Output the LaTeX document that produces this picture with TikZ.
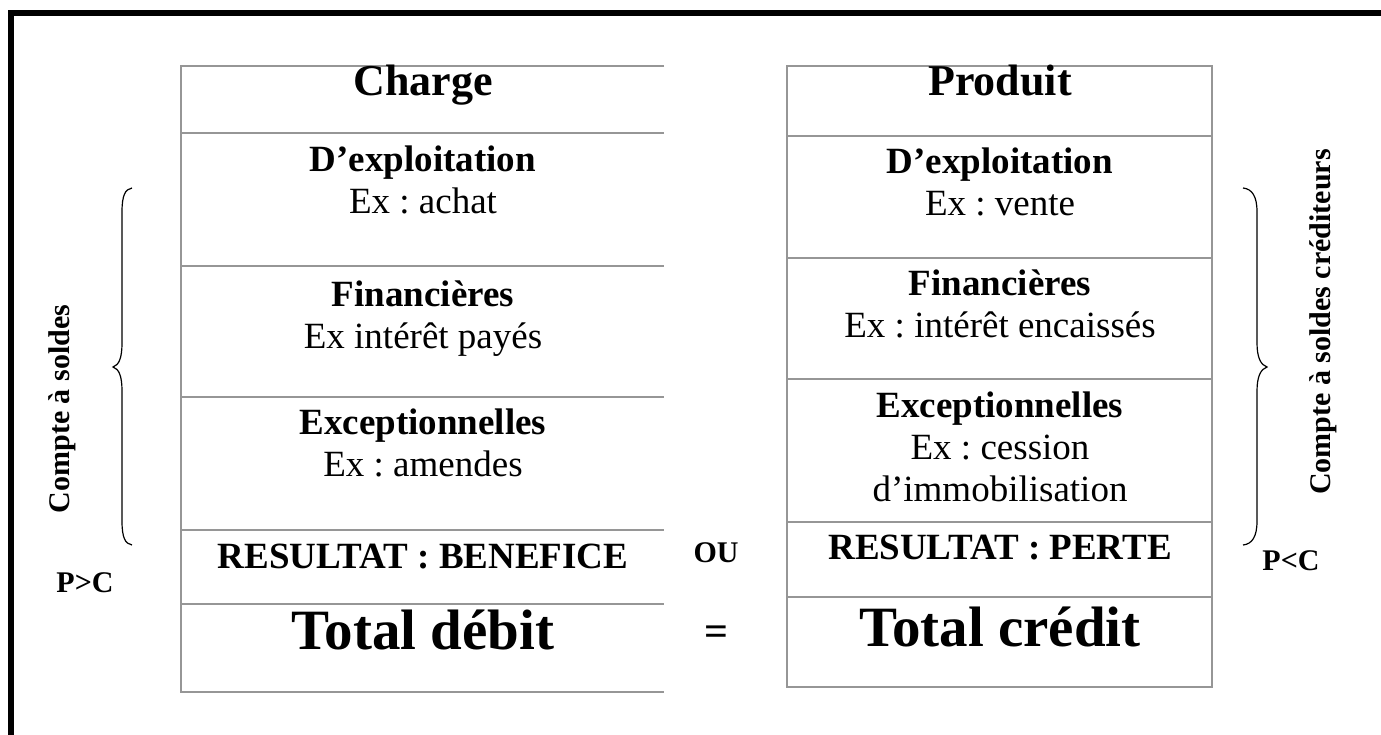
\documentclass[tikz,border=0pt]{standalone}
\usepackage{fontspec}
\setmainfont{Liberation Serif}
\definecolor{tablegray}{RGB}{150,150,150}
\frenchspacing
\begin{document}
\begin{tikzpicture}[x=1pt,y=-1pt,
  rule/.style={draw=tablegray, line width=2pt},
  body/.style={font=\fontsize{37}{42}\selectfont, anchor=base, inner sep=0pt},
  bodybf/.style={font=\fontsize{37}{42}\selectfont\bfseries, anchor=base, inner sep=0pt},
  title/.style={font=\fontsize{44}{50}\selectfont\bfseries, anchor=base, inner sep=0pt},
  total/.style={font=\fontsize{57}{64}\selectfont\bfseries, anchor=base, inner sep=0pt},
  side/.style={font=\fontsize{30}{34}\selectfont\bfseries, inner sep=0pt},
  brace/.style={draw=black, line width=1.2pt}]
\useasboundingbox (0,0) rectangle (1381,735);

% outer frame (top and left edges)
\draw[line width=6pt, line cap=rect] (11,735) -- (11,13) -- (1381,13);

% debit table (open on the right)
\draw[rule] (664,66) -- (181,66) -- (181,692) -- (664,692);
\foreach \y in {133,266,397,530,604} \draw[rule] (181,\y) -- (664,\y);

% credit table
\draw[rule] (787,66) rectangle (1212,687);
\foreach \y in {136,258,379,522,597} \draw[rule] (787,\y) -- (1212,\y);

% debit column
\node[title]  (charge)  at (423,96)  {Charge};
\node[bodybf] (lexpl)   at (423,172) {D’exploitation};
\node[body]   (lexpla)  at (423,214) {Ex : achat};
\node[bodybf] (lfin)    at (423,306) {Financières};
\node[body]   (lfina)   at (423,348) {Ex intérêt payés};
\node[bodybf] (lexc)    at (423,434) {Exceptionnelles};
\node[body]   (lexca)   at (423,476) {Ex : amendes};
\node[bodybf] (lres)    at (423,568) {RESULTAT : BENEFICE};
\node[total]  (ltot)    at (423,649) {Total débit};

% credit column
\node[title]  (produit) at (1000,96)  {Produit};
\node[bodybf] (rexpl)   at (1000,174) {D’exploitation};
\node[body]   (rexpla)  at (1000,216) {Ex : vente};
\node[bodybf] (rfin)    at (1000,295) {Financières};
\node[body]   (rfina)   at (1000,337) {Ex : intérêt encaissés};
\node[bodybf] (rexc)    at (1000,417) {Exceptionnelles};
\node[body]   (rexca)   at (1000,459) {Ex : cession};
\node[body]   (rexcb)   at (1000,501) {d’immobilisation};
\node[bodybf] (rres)    at (1000,559) {RESULTAT : PERTE};
\node[total]  (rtot)    at (1000,646) {Total crédit};

% between the columns
\node[side]   (ou)  at (716,553) {OU};
\node[font=\fontsize{42}{46}\selectfont\bfseries, inner sep=0pt] (eq) at (716,636) {=};

% braces and side labels
\draw[brace] (132,188) .. controls (125,189) and (122,196) .. (122,212)
  -- (122,343) .. controls (122,358) and (119,365) .. (113,367)
  .. controls (119,369) and (122,376) .. (122,391)
  -- (122,521) .. controls (122,537) and (125,544) .. (132,545);
\draw[brace] (1243,188) .. controls (1252,189) and (1257,196) .. (1257,212)
  -- (1257,343) .. controls (1257,358) and (1261,365) .. (1267,367)
  .. controls (1261,369) and (1257,376) .. (1257,391)
  -- (1257,521) .. controls (1257,537) and (1252,544) .. (1243,545);

\node[side, rotate=90] (lside) at (62,409)  {Compte à soldes};
\node[side, rotate=90] (rside) at (1323,322) {Compte à soldes créditeurs};
\node[side] (pgc) at (85,583)   {P>C};
\node[side] (plc) at (1291,561) {P<C};
\end{tikzpicture}
\end{document}
